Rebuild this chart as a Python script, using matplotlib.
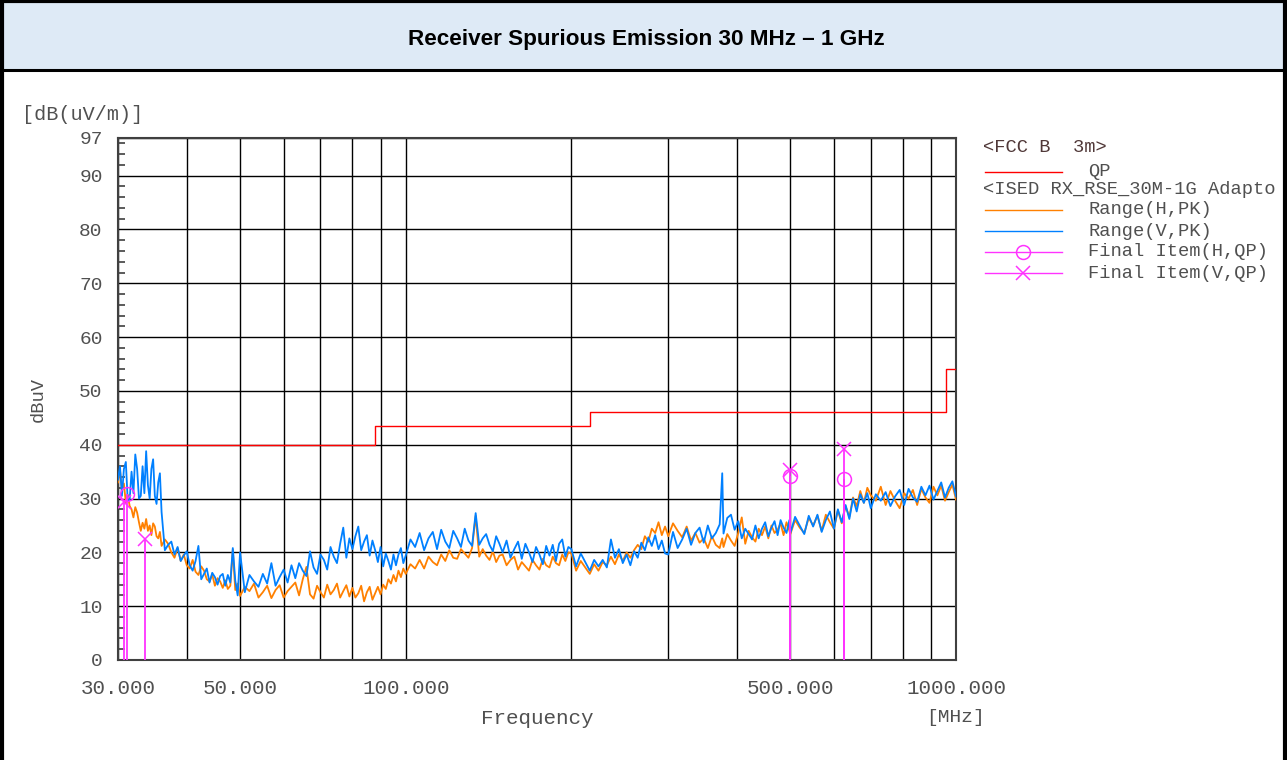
import matplotlib
matplotlib.use('Agg')
import matplotlib.pyplot as plt
from matplotlib.lines import Line2D
from matplotlib.patches import Rectangle
from matplotlib.ticker import MultipleLocator, NullLocator

# ---- sweep points (MHz) shared by both peak scans ----
FREQ = [30.0, 30.25, 30.5, 30.75, 31.0, 31.25, 31.5, 31.75, 32.0, 32.25, 32.5, 32.75,
        33.0, 33.25, 33.5, 33.75, 34.0, 34.25, 34.5, 34.75, 35.0, 35.25, 35.5, 35.75,
        36.0, 36.5, 37.0, 37.5, 38.0, 38.5, 39.0, 39.5, 40.0, 40.5, 41.0, 41.5,
        42.0, 42.5, 43.0, 43.5, 44.0, 44.5, 45.0, 45.5, 46.0, 46.5, 47.0, 47.5,
        48.0, 48.5, 49.0, 49.5,
        50, 51, 52, 53, 54, 55, 56, 57, 58, 59, 60, 61, 62, 63, 64, 65, 66, 67,
        68, 69, 70, 71, 72, 73, 74, 75, 76, 77, 78, 79,
        80, 81, 82, 83, 84, 85, 86, 87, 88, 89, 90, 91, 92, 93, 94, 95, 96, 97,
        98, 99,
        100, 102, 104, 106, 108, 110, 112, 114, 116, 118, 120, 122, 124, 126, 128,
        130, 132, 134, 136, 138, 140, 142, 144, 146, 148,
        150, 152.5, 155, 157.5, 160, 162.5, 165, 167.5, 170, 172.5, 175, 177.5,
        180, 182.5, 185, 187.5, 190, 192.5, 195, 197.5,
        200, 204, 208, 212, 216, 220, 224, 228, 232, 236, 240, 244, 248, 252, 256,
        260, 264, 268, 272, 276, 280, 284, 288, 292, 296,
        300, 306, 312, 318, 324, 330, 336, 342, 348, 354, 360, 366, 372, 376, 378,
        384, 390, 396, 402, 408, 414, 420, 426, 432, 438, 444, 450, 456, 462, 468,
        474, 480, 486, 492, 498,
        500, 510, 520, 530, 540, 550, 560, 570, 580, 590, 600, 610, 620, 630, 640,
        650, 660, 670, 680, 690,
        700, 715, 730, 745, 760, 775, 790, 805, 820, 835, 850, 865, 880, 895, 910,
        925, 940, 955, 970, 985, 1000]

# Range(H,PK) [dBuV/m]
H_PK = [33.0, 35.3, 31.5, 32.8, 29.2, 30.7, 28.6, 28.0, 26.5, 28.4, 27.4, 25.6,
        24.0, 25.5, 24.4, 26.2, 24.0, 25.0, 23.2, 25.4, 24.8, 23.0, 22.6, 23.8,
        21.2, 22.4, 21.6, 20.0, 19.0, 20.8, 18.4, 19.6, 17.6, 17.0, 18.6, 16.4,
        15.8, 17.4, 16.6, 15.0, 14.6, 15.9, 13.8, 15.2, 14.6, 13.4, 14.8, 13.2,
        13.8, 20.5, 13.0, 14.2,
        11.9, 13.6, 12.8, 14.2, 11.6, 12.6, 13.8, 11.5, 13.0, 13.9, 11.6, 12.8,
        13.6, 14.4, 12.0, 15.0, 17.3, 12.2, 11.4, 13.8, 12.6, 11.6, 14.0, 12.2,
        13.0, 14.2, 11.6, 12.8, 13.9, 11.8,
        13.4, 11.6, 12.4, 13.8, 10.9, 12.6, 13.6, 11.2, 12.4, 13.6,
        12.2, 14.0, 13.2, 15.0, 14.2, 15.8, 14.6, 16.6, 15.4, 17.0,
        16.0, 17.8, 17.0, 18.6, 17.0, 19.2, 18.2, 17.6, 19.6, 18.4,
        20.4, 19.0, 18.8, 20.6, 19.8, 19.0, 20.8, 26.8, 19.2, 20.6,
        19.4, 18.6, 20.2, 18.2, 19.4,
        19.6, 17.6, 18.6, 19.2, 16.8, 18.2, 17.4, 16.6, 18.6, 17.6,
        16.8, 18.8, 17.6, 17.2, 19.2, 18.0, 17.6, 19.6, 18.4, 20.0,
        19.8, 16.6, 18.4, 17.2, 16.0, 17.8, 16.6, 18.2, 17.6, 19.2,
        17.8, 19.6, 18.4, 20.0, 19.0, 20.4, 21.4, 20.6, 23.0, 22.0,
        24.4, 23.6, 25.6, 23.2, 24.8,
        23.0, 25.4, 24.0, 22.8, 24.8, 22.2, 23.6, 21.8, 22.6, 20.8,
        23.0, 21.4, 20.8, 22.6, 21.0, 23.4, 22.2, 21.2, 23.6, 26.5,
        21.6, 24.0, 22.8, 22.0, 24.4, 23.2, 24.8, 22.6, 25.0, 23.6,
        24.2, 25.4, 23.2, 25.6, 24.0,
        23.4, 26.0, 24.6, 23.6, 26.4, 25.0, 26.8, 24.0, 27.0, 25.6,
        24.4, 27.8, 25.4, 28.6, 26.6, 30.2, 28.6, 31.4, 29.2, 32.0,
        30.6, 29.6, 32.2, 28.8, 31.4, 29.6, 28.2, 31.0, 30.0, 31.6,
        28.8, 31.8, 30.2, 29.2, 32.2, 30.6, 32.4, 29.6, 31.2, 32.6,
        29.8]

# Range(V,PK) [dBuV/m]
V_PK = [33.5, 36.0, 30.5, 35.5, 36.8, 29.5, 29.8, 35.0, 31.0, 38.2, 35.5, 30.0,
        30.5, 36.0, 31.0, 38.8, 32.5, 30.0, 35.5, 37.3, 30.5, 29.0, 33.0, 34.7,
        27.5, 20.4, 21.4, 22.0, 19.6, 21.0, 18.4, 19.4, 20.2, 17.6,
        16.6, 18.4, 21.2, 15.0, 16.0, 17.0, 14.4, 16.2, 15.4, 14.0,
        15.6, 16.0, 13.8, 15.8, 14.4, 20.8, 14.8, 12.0,
        20.0, 12.6, 15.8, 14.6, 13.6, 16.0, 14.2, 18.0, 13.8, 15.4,
        16.8, 14.4, 17.6, 15.2, 18.0, 16.6, 15.6, 20.2, 17.2, 16.0,
        19.6, 18.6, 16.8, 21.0, 19.2, 18.0, 21.6, 24.6, 19.0, 22.6,
        20.6, 23.0, 24.8, 20.4, 22.0, 23.2, 19.4, 22.2, 20.4, 18.2,
        21.0, 17.4, 19.8, 18.4, 16.8, 19.6, 17.6, 19.6, 20.8, 18.0,
        19.4, 22.4, 21.0, 23.6, 20.4, 22.6, 23.8, 20.6, 24.2, 22.0,
        20.8, 24.0, 22.6, 21.0, 24.4, 22.2, 21.2, 27.3, 21.4, 22.6,
        23.4, 21.4, 20.2, 23.0, 21.6,
        20.0, 22.2, 19.0, 20.6, 22.0, 18.8, 21.6, 20.0, 18.2, 21.0,
        19.6, 17.8, 21.2, 19.4, 21.4, 18.4, 21.6, 22.4, 19.2, 21.0,
        20.6, 17.4, 19.8, 18.2, 16.6, 18.6, 17.4, 18.6, 17.2, 22.4,
        19.0, 20.6, 18.0, 19.6, 17.6, 20.2, 19.0, 21.8, 20.4, 22.8,
        21.2, 23.2, 20.6, 22.2, 19.8,
        19.6, 23.8, 20.8, 22.4, 24.4, 21.4, 23.6, 24.6, 21.8, 25.0,
        22.6, 23.6, 25.2, 34.7, 23.5, 26.4, 27.0, 24.2, 25.8, 22.6,
        24.4, 23.4, 22.4, 25.0, 22.6, 24.4, 25.6, 23.0, 24.6, 25.8,
        23.2, 26.0, 24.6, 23.6, 26.0,
        23.6, 26.6, 25.0, 23.4, 26.8, 24.8, 27.0, 23.8, 26.0, 27.6,
        24.4, 28.0, 25.6, 28.8, 26.2, 30.0, 27.6, 30.8, 29.2, 31.0,
        28.2, 30.8, 29.6, 31.2, 28.6, 30.4, 31.6, 28.8, 31.8, 30.2,
        29.4, 32.2, 30.6, 32.4, 29.8, 31.4, 33.0, 30.2, 32.0, 33.2,
        30.4]

# FCC class B 3 m quasi-peak limit (step edges)
LIMIT_FREQ = [30, 88, 216, 960, 1000]
LIMIT_QP = [40.0, 43.5, 46.0, 54.0, 54.0]

# final quasi-peak readings
FINAL_H_FREQ = [31.1, 499.0, 626.0]
FINAL_H_QP = [30.8, 34.1, 33.6]
FINAL_V_FREQ = [30.8, 33.6, 499.0, 626.0]
FINAL_V_QP = [29.4, 22.4, 35.3, 39.2]

GRID_F = [30, 40, 50, 60, 70, 80, 90, 100, 200, 300, 400, 500, 600, 700, 800,
          900, 1000]
LABEL_F = {30: '30.000', 50: '50.000', 100: '100.000', 500: '500.000',
           1000: '1000.000'}
Y_TICKS = [0, 10, 20, 30, 40, 50, 60, 70, 80, 90, 97]

assert len(FREQ) == len(H_PK) == len(V_PK)

C_H, C_V, C_LIM, C_FIN = '#FF8000', '#0080FF', '#FF0000', '#FF33FF'
TXT = '#505050'
MONO = ['Liberation Mono', 'DejaVu Sans Mono']

W, H = 1287, 760
fig = plt.figure(figsize=(W / 100, H / 100), dpi=100)
fx = lambda px: px / W
fy = lambda py: 1 - py / H

# title bar + frame
fig.add_artist(Rectangle((0, fy(70)), 1, 70 / H, transform=fig.transFigure,
                         facecolor='#DEEAF6', edgecolor='none', zorder=0))
for xs, ys, lw in [([0, 1], [fy(1), fy(1)], 3), ([0, 1], [fy(70), fy(70)], 2.2),
                   ([fx(2), fx(2)], [0, 1], 3), ([fx(1285), fx(1285)], [0, 1], 3)]:
    fig.add_artist(Line2D(xs, ys, transform=fig.transFigure, color='black', lw=lw))
fig.text(fx(646), fy(40), 'Receiver Spurious Emission 30 MHz \u2013 1 GHz',
         ha='center', va='center', fontsize=16.2, fontweight='bold',
         family=['Liberation Sans', 'DejaVu Sans'])

ax = fig.add_axes([fx(118), fy(660), (956 - 118) / W, (660 - 138) / H])
ax.set_xscale('log')
ax.set_xlim(30, 1000)
ax.set_ylim(0, 97)

ax.plot(FREQ, H_PK, color=C_H, lw=1.3, zorder=3)
ax.plot(FREQ, V_PK, color=C_V, lw=1.3, zorder=4)
ax.plot(LIMIT_FREQ, LIMIT_QP, color=C_LIM, lw=1.0, drawstyle='steps-post', zorder=5)

ax.vlines(FINAL_H_FREQ, 0, FINAL_H_QP, color=C_FIN, lw=1.3, zorder=6)
ax.vlines(FINAL_V_FREQ, 0, FINAL_V_QP, color=C_FIN, lw=1.3, zorder=6)
ax.plot(FINAL_H_FREQ, FINAL_H_QP, 'o', ms=10, mfc='none', mec=C_FIN, mew=1.1, zorder=7)
ax.plot(FINAL_V_FREQ, FINAL_V_QP, 'x', ms=10, mec=C_FIN, mew=1.1, zorder=7)

ax.xaxis.set_minor_locator(NullLocator())
ax.set_xticks(GRID_F)
ax.set_xticklabels([LABEL_F.get(f, '') for f in GRID_F])
ax.set_yticks(Y_TICKS)
ax.set_yticklabels([str(v) for v in Y_TICKS])
ax.yaxis.set_minor_locator(MultipleLocator(2))
ax.tick_params(axis='x', which='both', length=0, pad=14, labelsize=15,
               labelcolor=TXT)
ax.tick_params(axis='y', which='major', length=0, pad=11, labelsize=14,
               labelcolor=TXT)
ax.tick_params(axis='y', which='minor', direction='in', length=5, width=1.2,
               color='#404040', left=True, right=False)
for lab in ax.get_xticklabels() + ax.get_yticklabels():
    lab.set_family(MONO)
ax.grid(which='major', color='black', lw=1.0, zorder=1)
for sp in ax.spines.values():
    sp.set_color('#404040')
    sp.set_linewidth(1.5)

fig.text(fx(22), fy(115), '[dB(uV/m)]', family=MONO, fontsize=14.5, color=TXT,
         va='center')
fig.text(fx(38), fy(400), 'dBuV', family=MONO, fontsize=13.5, color=TXT,
         rotation=90, ha='center', va='center')
fig.text(fx(537), fy(718), 'Frequency', family=MONO, fontsize=15, color=TXT,
         ha='center', va='center')
fig.text(fx(956), fy(718), '[MHz]', family=MONO, fontsize=14, color=TXT,
         ha='center', va='center')

# legend block, pixel coordinates
lax = fig.add_axes([fx(978), fy(290), (1276 - 978) / W, (290 - 135) / H])
lax.set_xlim(978, 1276)
lax.set_ylim(290, 135)
lax.axis('off')
lax.text(983, 148, '<FCC B  3m>', family=MONO, fontsize=13.5, color='#503838',
         va='center')
lax.text(983, 189, '<ISED RX_RSE_30M-1G Adapto', family=MONO, fontsize=13.5,
         color=TXT, va='center')
items = [(172, C_LIM, None, 'QP'), (210, C_H, None, 'Range(H,PK)'),
         (231, C_V, None, 'Range(V,PK)'), (252, C_FIN, 'o', 'Final Item(H,QP)'),
         (273, C_FIN, 'x', 'Final Item(V,QP)')]
for y, c, m, label in items:
    lax.plot([985, 1062], [y, y], color=c, lw=1.0)
    if m:
        lax.plot([1023], [y], m, ms=10, mfc='none', mec=c, mew=1.1)
    lax.text(1088, y, label, family=MONO, fontsize=13.5, color=TXT, va='center')

fig.savefig('out.png', dpi=100)
